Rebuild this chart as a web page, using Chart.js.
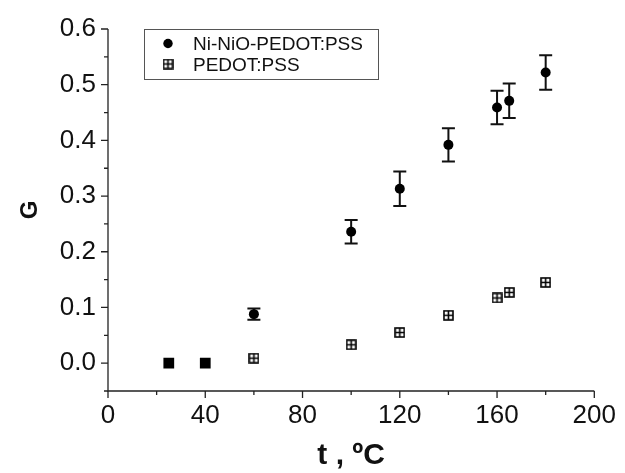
<!DOCTYPE html>
<html>
<head>
<meta charset="utf-8">
<script src="https://cdn.jsdelivr.net/npm/chart.js@4.4.1/dist/chart.umd.min.js"></script>
<style>
html, body { margin: 0; padding: 0; background: #fff; }
#wrap { width: 625px; height: 473px; }
</style>
</head>
<body>
<div id="wrap"><canvas id="gChart"></canvas></div>
<script>
const temps = [60, 100, 120, 140, 160, 165, 180];
const niG = [0.088, 0.236, 0.313, 0.392, 0.459, 0.471, 0.522];
const niErr = [0.01, 0.021, 0.031, 0.03, 0.03, 0.031, 0.031];
const pedotG = [0.009, 0.033, 0.055, 0.086, 0.117, 0.127, 0.145];
const lowTemps = [25, 40];
const lowG = [0, 0];
const xTicks = [0, 40, 80, 120, 160, 200];
const yTicks = [0.0, 0.1, 0.2, 0.3, 0.4, 0.5, 0.6];

const FONT = "'Liberation Sans', Arial, sans-serif";

function crossSquare(size) {
    const c = document.createElement('canvas');
    c.width = size;
    c.height = size;
    const g = c.getContext('2d');
    g.strokeStyle = '#000';
    g.lineWidth = 1.6;
    g.strokeRect(1, 1, size - 2, size - 2);
    g.beginPath();
    g.moveTo(size / 2, 1);
    g.lineTo(size / 2, size - 1);
    g.moveTo(1, size / 2);
    g.lineTo(size - 1, size / 2);
    g.stroke();
    return c;
}
const pedotMarker = crossSquare(11);

// error bars, axes with major/minor ticks, boxed legend
const extras = {
    id: 'extras',
    beforeDatasetsDraw(chart) {
        const ctx = chart.ctx;
        const xs = chart.scales.x, ys = chart.scales.y;
        ctx.save();
        ctx.strokeStyle = '#111';
        ctx.lineWidth = 2;
        temps.forEach((t, i) => {
            const px = xs.getPixelForValue(t);
            const top = ys.getPixelForValue(niG[i] + niErr[i]);
            const bot = ys.getPixelForValue(niG[i] - niErr[i]);
            ctx.beginPath();
            ctx.moveTo(px, top); ctx.lineTo(px, bot);
            ctx.moveTo(px - 6.5, top); ctx.lineTo(px + 6.5, top);
            ctx.moveTo(px - 6.5, bot); ctx.lineTo(px + 6.5, bot);
            ctx.stroke();
        });
        ctx.restore();
    },
    afterDraw(chart) {
        const ctx = chart.ctx;
        const xs = chart.scales.x, ys = chart.scales.y;
        const area = chart.chartArea;
        ctx.save();
        ctx.strokeStyle = '#222';
        ctx.lineWidth = 1.3;
        // axis lines
        ctx.beginPath();
        ctx.moveTo(area.left, area.top);
        ctx.lineTo(area.left, area.bottom);
        ctx.lineTo(area.right, area.bottom);
        ctx.stroke();
        // ticks
        ctx.beginPath();
        xs.ticks.forEach(tk => {
            const px = xs.getPixelForValue(tk.value);
            const len = tk.value % 40 === 0 ? 7 : 4;
            ctx.moveTo(px, area.bottom);
            ctx.lineTo(px, area.bottom + len);
        });
        ys.ticks.forEach(tk => {
            const py = ys.getPixelForValue(tk.value);
            const major = Math.round(tk.value * 100) % 10 === 0;
            ctx.moveTo(area.left, py);
            ctx.lineTo(area.left - (major ? 7 : 4), py);
        });
        ctx.stroke();

        // legend
        ctx.strokeStyle = '#555';
        ctx.lineWidth = 1;
        ctx.strokeRect(144.5, 29.5, 234, 50);
        ctx.fillStyle = '#000';
        ctx.beginPath();
        ctx.arc(168, 43.5, 4.7, 0, Math.PI * 2);
        ctx.fill();
        ctx.drawImage(pedotMarker, 168 - 5.5, 64 - 5.5);
        ctx.font = '19px ' + FONT;
        ctx.textBaseline = 'middle';
        ctx.fillStyle = '#111';
        ctx.fillText(chart.data.datasets[0].label, 193, 44.5);
        ctx.fillText(chart.data.datasets[1].label, 193, 65.5);
        ctx.restore();
    }
};

const ctx = document.getElementById('gChart').getContext('2d');
const gChart = new Chart(ctx, {
    type: 'scatter',
    data: {
        datasets: [{
            label: 'Ni-NiO-PEDOT:PSS',
            data: temps.map((t, i) => ({x: t, y: niG[i]})),
            pointStyle: 'circle',
            pointRadius: 5,
            backgroundColor: '#000',
            borderColor: '#000',
            borderWidth: 0
        }, {
            label: 'PEDOT:PSS',
            data: temps.map((t, i) => ({x: t, y: pedotG[i]})),
            pointStyle: pedotMarker
        }, {
            label: 'start',
            data: lowTemps.map((t, i) => ({x: t, y: lowG[i]})),
            pointStyle: 'rect',
            pointRadius: 7.6,
            backgroundColor: '#000',
            borderColor: '#000',
            borderWidth: 0
        }]
    },
    options: {
        responsive: true,
        maintainAspectRatio: false,
        animation: false,
        events: [],
        layout: { padding: { top: 29, right: 26, left: 0, bottom: 0 } },
        plugins: {
            legend: { display: false },
            tooltip: { enabled: false }
        },
        scales: {
            x: {
                type: 'linear',
                min: 0,
                max: 200,
                grid: { display: false, drawTicks: false },
                border: { display: false },
                afterFit: s => { s.height = 82; },
                ticks: {
                    stepSize: 20,
                    padding: 9,
                    color: '#111',
                    font: { family: FONT, size: 26 },
                    autoSkip: false,
                    maxRotation: 0,
                    callback: v => xTicks.includes(v) ? String(v) : ''
                },
                title: {
                    display: true,
                    text: 't , ºC',
                    color: '#111',
                    font: { family: FONT, size: 30, weight: 'bold', lineHeight: 1 },
                    padding: { top: 0, bottom: 2 }
                }
            },
            y: {
                min: -0.05,
                max: 0.6,
                grid: { display: false, drawTicks: false },
                border: { display: false },
                afterFit: s => { s.width = 108; },
                ticks: {
                    stepSize: 0.05,
                    padding: 12,
                    color: '#111',
                    font: { family: FONT, size: 26 },
                    autoSkip: false,
                    callback: v => {
                        const r = Math.round(v * 10) / 10;
                        return Math.abs(v - r) < 1e-6 && yTicks.includes(r) ? r.toFixed(1) : '';
                    }
                },
                title: {
                    display: true,
                    text: 'G',
                    color: '#111',
                    font: { family: FONT, size: 24, weight: 'bold', lineHeight: 1 },
                    padding: { top: 18, bottom: 0 }
                }
            }
        }
    },
    plugins: [extras]
});
</script>
</body>
</html>
